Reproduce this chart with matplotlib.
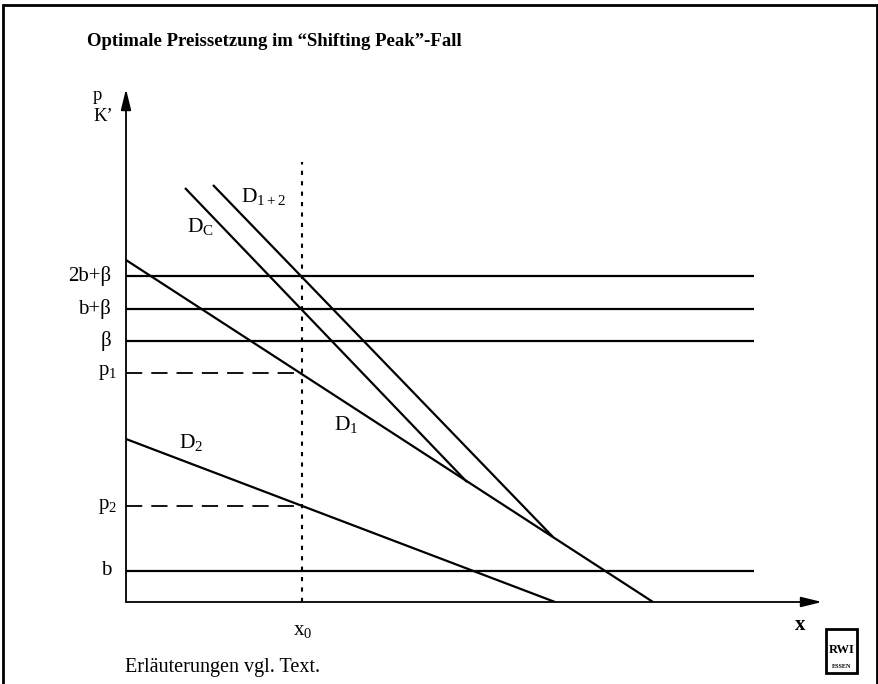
import matplotlib
matplotlib.use("Agg")
import matplotlib.pyplot as plt
from matplotlib.patches import Rectangle

plt.rcParams["font.family"] = ["Liberation Serif", "DejaVu Serif"]
plt.rcParams["mathtext.fontset"] = "custom"
plt.rcParams["mathtext.rm"] = "Liberation Serif"
plt.rcParams["mathtext.it"] = "Liberation Serif:italic"
plt.rcParams["mathtext.bf"] = "Liberation Serif:bold"

# Price levels on the vertical axis
level_names = ["2b+β", "b+β", "β", "b"]
level_values = [32.6, 29.3, 26.1, 3.15]
p1, p2 = 22.9, 9.6
x0 = 17.6
x_max, y_max = 69.6, 51.3
line_end = 62.8
x0_top = 44.0

# Demand curves (x, p) points
d1_x = [0.0, 52.7]
d1_p = [34.2, 0.0]
d2_x = [0.0, 42.9]
d2_p = [16.3, 0.0]
dc_x = [5.9, 34.1]
dc_p = [41.4, 12.0]
d12_x = [8.7, 42.7]
d12_p = [41.7, 6.5]

W, H = 879, 684
fig = plt.figure(figsize=(W / 100, H / 100), dpi=100)

# page frame (open at the bottom)
fig.add_artist(Rectangle((3 / W, -0.05), 874 / W, 1.05 - 4.5 / H, transform=fig.transFigure,
                         fill=False, lw=2, ec="black"))

ax = fig.add_axes([126 / W, 82 / H, 696 / W, 513 / H])
ax.set_xlim(0, x_max)
ax.set_ylim(0, y_max)
ax.axis("off")

lw = 1.6
arrow = dict(arrowstyle="-|>,head_length=0.9,head_width=0.22", lw=1.3, color="black",
             mutation_scale=14, shrinkA=0, shrinkB=0)
ax.annotate("", xy=(x_max, 0), xytext=(0, 0), arrowprops=arrow, annotation_clip=False)
ax.annotate("", xy=(0, y_max), xytext=(0, 0), arrowprops=arrow, annotation_clip=False)

for v in level_values:
    ax.plot([0, line_end], [v, v], color="black", lw=lw, solid_capstyle="butt")

ax.plot([0, x0], [p1, p1], color="black", lw=1.3, dashes=(9, 5))
ax.plot([0, x0], [p2, p2], color="black", lw=1.3, dashes=(9, 5))
ax.plot([x0, x0], [0, x0_top], color="black", lw=1.5, dashes=(2, 3))

for xs, ps in [(d1_x, d1_p), (d2_x, d2_p), (dc_x, dc_p), (d12_x, d12_p)]:
    ax.plot(xs, ps, color="black", lw=lw, solid_capstyle="butt")

fs = 15
for name, v in zip(level_names, level_values):
    ax.text(-1.5, v, name, ha="right", va="center", fontsize=fs)
ax.text(-2.8, p1, r"$\mathrm{p}_{1}$", ha="left", va="center", fontsize=fs)
ax.text(-2.8, p2, r"$\mathrm{p}_{2}$", ha="left", va="center", fontsize=fs)

# axis labels
ax.text(-3.3, 50.2, "p", ha="left", va="baseline", fontsize=13.5)
ax.text(-3.3, 48.1, "K’", ha="left", va="baseline", fontsize=13.5)
ax.text(16.7, -3.3, r"$\mathrm{x}_{0}$", ha="left", va="baseline", fontsize=fs)
ax.text(67.4, -2.8, "x", ha="center", va="baseline", fontsize=fs, fontweight="bold")

# curve names
ax.text(11.5, 40.0, r"$\mathrm{D}_{\mathrm{1+2}}$", ha="left", va="baseline", fontsize=15.5)
ax.text(6.1, 37.0, r"$\mathrm{D}_{\mathrm{C}}$", ha="left", va="baseline", fontsize=15.5)
ax.text(20.8, 17.2, r"$\mathrm{D}_{1}$", ha="left", va="baseline", fontsize=15.5)
ax.text(5.3, 15.4, r"$\mathrm{D}_{2}$", ha="left", va="baseline", fontsize=15.5)

fig.text(274 / W, 1 - 46 / H, "Optimale Preissetzung im “Shifting Peak”-Fall",
         ha="center", va="baseline", fontsize=13.5, fontweight="bold")
fig.text(125 / W, 1 - 672 / H, "Erläuterungen vgl. Text.", ha="left", va="baseline",
         fontsize=14.5)

# RWI logo box
fig.add_artist(Rectangle((826 / W, 1 - 673 / H), 31 / W, 44 / H, transform=fig.transFigure,
                         fill=False, lw=2, ec="black"))
fig.text(841.5 / W, 1 - 653 / H, "RWI", ha="center", va="baseline", fontsize=9,
         fontweight="bold")
fig.text(841.5 / W, 1 - 668 / H, "ESSEN", ha="center", va="baseline", fontsize=4.5,
         fontweight="bold")

fig.savefig("out.png", dpi=100)
